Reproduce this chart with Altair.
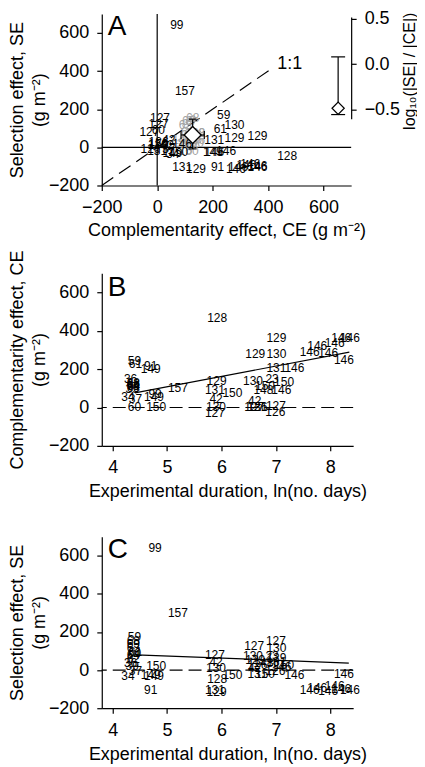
import altair as alt
import pandas as pd

FONT = "Liberation Sans"

# ---- study-level values ----
study_id = ["59", "61", "36", "68", "69", "63", "64", "62", "39", "34", "37", "60",
            "91", "149", "149", "99", "150", "157",
            "128", "129", "131", "42", "130", "127", "150",
            "129", "130", "127", "126", "131", "42", "148", "150", "23",
            "130", "129", "131", "127", "126", "150", "146",
            "146", "146", "146", "146", "146", "146", "146", "146"]
ln_days = [4.40, 4.42, 4.33, 4.38, 4.38, 4.38, 4.38, 4.38, 4.36, 4.28, 4.42, 4.40,
           4.70, 4.70, 4.76, 4.78, 4.80, 5.20,
           5.92, 5.91, 5.88, 5.90, 5.90, 5.88, 6.20,
           6.62, 6.58, 6.60, 6.66, 6.66, 6.61, 6.77, 6.80, 6.93,
           7.01, 7.01, 7.01, 7.00, 6.99, 7.15, 7.10,
           7.34, 7.62, 7.76, 7.96, 8.08, 8.20, 8.36, 8.25]
ce_values = [240, 228, 149, 128, 114, 102, 110, 120, 95, 56, 42, 4,
             218, 201, 55, 71, 4, 100,
             469, 140, 90, 42, 2, -28, 76,
             279, 137, 5, 5, 0, 36, 90, 114, 149,
             279, 362, 206, 10, -24, 133, 90,
             206, 292, 322, 284, 336, 362, 362, 249]
se_values = [171, 95, 36, 153, 136, 115, 80, 59, 20, -33, -7, 92,
             -103, -24, -30, 640, 19, 297,
             -45, -116, -103, 40, 10, 80, -24,
             51, 75, 124, 28, -19, 10, 37, -19, 75,
             115, 61, 40, 155, -7, 25, 16,
             -24, -103, -94, -111, -85, -100, -103, -21]
gray_flag = [0, 0, 1, 1, 1, 1, 1, 1, 1, 0, 0, 0,
             0, 0, 0, 0, 0, 0,
             0, 0, 0, 0, 0, 0, 0,
             0, 1, 0, 0, 0, 0, 1, 1, 1,
             0, 0, 0, 0, 0, 1, 0,
             0, 0, 0, 0, 0, 0, 0, 0]

# summary values
mean_ce = [128]
mean_se = [65]
ce_ci = [86, 170]
se_ci = [-8, 148]
ratio_ce_pos = [653]
ratio_mean = [-0.485]
ratio_ci = [-0.555, 0.08]
one_to_one = [-200, 415]
one_to_one_label = [478, 437]
fit_b_x = [4.41, 8.35]
fit_b_y = [76, 289]
fit_c_x = [4.43, 8.34]
fit_c_y = [80, 37]

ticks_effect = [-200, 0, 200, 400, 600]
ticks_days = [4, 5, 6, 7, 8]
ticks_ratio = [-0.5, 0.0, 0.5]

df = pd.DataFrame({"id": study_id, "lnd": ln_days, "ce": ce_values,
                   "se": se_values, "gray": gray_flag})
df_black = df[df.gray == 0]
df_gray = df[df.gray == 1]

UNIT = "(g m\u207b\u00b2)"
GRAY = "#a3a3a3"


def xa():
    return alt.X("ce:Q", scale=alt.Scale(domain=[-200, 700], nice=False, zero=False),
                 axis=alt.Axis(values=ticks_effect,
                               title="Complementarity effect, CE " + UNIT,
                               titlePadding=5))


def ya():
    return alt.Y("se:Q", scale=alt.Scale(domain=[-200, 700], nice=False, zero=False),
                 axis=alt.Axis(values=ticks_effect,
                               title=["Selection effect, SE", UNIT],
                               titlePadding=0, titleLineHeight=22))


one = pd.DataFrame({"k": [0]})

# ---------------- Panel A ----------------
zero_v = alt.Chart(one).mark_rule(color="black", strokeWidth=1.2).encode(x=alt.datum(0))
zero_h = alt.Chart(one).mark_rule(color="black", strokeWidth=1.2).encode(y=alt.datum(0))
diag = alt.Chart(pd.DataFrame({"ce": [one_to_one[0]], "se": [one_to_one[0]],
                               "ce2": [one_to_one[1]], "se2": [one_to_one[1]]})).mark_rule(
    color="black", strokeWidth=1.2, strokeDash=[14, 7]).encode(
    x=xa(), y=ya(), x2="ce2:Q", y2="se2:Q")
diag_lab = alt.Chart(pd.DataFrame({"ce": [one_to_one_label[0]], "se": [one_to_one_label[1]],
                                   "t": ["1:1"]})).mark_text(
    font=FONT, fontSize=18, color="black").encode(x=xa(), y=ya(), text="t:N")

gray_pts = alt.Chart(df_gray).mark_point(shape="circle", size=28, color=GRAY,
                                         strokeWidth=1, opacity=1).encode(x=xa(), y=ya())
gray_txt = alt.Chart(df_gray).mark_text(font=FONT, fontSize=12, color=GRAY).encode(
    x=xa(), y=ya(), text="id:N")
black_txt = alt.Chart(df_black).mark_text(font=FONT, fontSize=12, color="black").encode(
    x=xa(), y=ya(), text="id:N")

mean_df = pd.DataFrame({"ce": mean_ce, "se": mean_se,
                        "ce_lo": [ce_ci[0]], "ce_hi": [ce_ci[1]],
                        "se_lo": [se_ci[0]], "se_hi": [se_ci[1]]})
bar_v = alt.Chart(mean_df).mark_rule(color="black", strokeWidth=1.2).encode(
    x=xa(), y=alt.Y("se_lo:Q"), y2="se_hi:Q")
bar_h = alt.Chart(mean_df).mark_rule(color="black", strokeWidth=1.2).encode(
    x=alt.X("ce_lo:Q"), x2="ce_hi:Q", y=ya())
cap_df_v = pd.DataFrame({"ce": mean_ce * 2, "se": se_ci})
cap_df_h = pd.DataFrame({"ce": ce_ci, "se": mean_se * 2})
caps_v = alt.Chart(cap_df_v).mark_tick(orient="horizontal", size=8, thickness=1.2,
                                       color="black", opacity=1).encode(x=xa(), y=ya())
caps_h = alt.Chart(cap_df_h).mark_tick(orient="vertical", size=8, thickness=1.2,
                                       color="black", opacity=1).encode(x=xa(), y=ya())
mean_pt = alt.Chart(mean_df).mark_point(shape="diamond", size=290, filled=True,
                                        fill="white", stroke="black", strokeWidth=1.3,
                                        opacity=1).encode(x=xa(), y=ya())

letter_a = alt.Chart(pd.DataFrame({"t": ["A"]})).mark_text(
    font=FONT, fontSize=28, color="black", align="left", baseline="alphabetic").encode(
    x=alt.value(6), y=alt.value(21), text="t:N")

left_layers = alt.layer(zero_v, zero_h, diag, diag_lab, gray_pts, gray_txt, black_txt,
                        bar_v, bar_h, caps_v, caps_h, mean_pt, letter_a)


def yr():
    return alt.Y("ratio:Q",
                 scale=alt.Scale(domain=[-0.6, 0.52], range=[105, 3], nice=False, zero=False),
                 axis=alt.Axis(orient="right", values=ticks_ratio, format=".1f",
                               labelPadding=8,
                               title="log\u2081\u2080(|SE| / |CE|)", titleAngle=270,
                               titleX=58, titleY=57, titleBaseline="middle",
                               titleAlign="center", titleFontSize=16))


ratio_bar = pd.DataFrame({"ce": ratio_ce_pos, "ratio": [ratio_ci[0]], "ratio2": [ratio_ci[1]]})
ratio_caps = pd.DataFrame({"ce": ratio_ce_pos * 2, "ratio": ratio_ci})
ratio_pt = pd.DataFrame({"ce": ratio_ce_pos, "ratio": ratio_mean})
r_bar = alt.Chart(ratio_bar).mark_rule(color="black", strokeWidth=1.2).encode(
    x=xa(), y=yr(), y2="ratio2:Q")
r_caps = alt.Chart(ratio_caps).mark_tick(orient="horizontal", size=14, thickness=1.2,
                                         color="black", opacity=1).encode(x=xa(), y=yr())
r_pt = alt.Chart(ratio_pt).mark_point(shape="diamond", size=150, filled=True, fill="white",
                                      stroke="black", strokeWidth=1.2, opacity=1).encode(
    x=xa(), y=yr())
right_layers = alt.layer(r_bar, r_caps, r_pt)

panel_a = alt.layer(left_layers, right_layers).resolve_scale(y="independent").properties(
    width=250, height=172)


# ---------------- Panels B and C ----------------
def xd():
    return alt.X("lnd:Q", scale=alt.Scale(domain=[3.8, 8.42], nice=False, zero=False),
                 axis=alt.Axis(values=ticks_days, format="d",
                               title="Experimental duration, ln(no. days)", titlePadding=6))


def yd(field, title):
    return alt.Y(field + ":Q", scale=alt.Scale(domain=[-200, 700], nice=False, zero=False),
                 axis=alt.Axis(values=ticks_effect, title=[title, UNIT],
                               titlePadding=0, titleLineHeight=22))


def time_panel(field, title, fit_x, fit_y, letter, letter_y, height):
    dash0 = alt.Chart(one).mark_rule(color="black", strokeWidth=1.2,
                                     strokeDash=[13, 6]).encode(y=alt.datum(0))
    fit = alt.Chart(pd.DataFrame({"lnd": fit_x, field: fit_y})).mark_line(
        color="black", strokeWidth=1.2).encode(x=xd(), y=yd(field, title))
    txt = alt.Chart(df).mark_text(font=FONT, fontSize=12, color="black").encode(
        x=xd(), y=yd(field, title), text="id:N")
    let = alt.Chart(pd.DataFrame({"t": [letter]})).mark_text(
        font=FONT, fontSize=28, color="black", align="left", baseline="alphabetic").encode(
        x=alt.value(6), y=alt.value(letter_y), text="t:N")
    return alt.layer(dash0, txt, fit, let).properties(width=252, height=height)


panel_b = time_panel("ce", "Complementarity effect, CE", fit_b_x, fit_b_y, "B", 23, 173)
panel_c = time_panel("se", "Selection effect, SE", fit_c_x, fit_c_y, "C", 21, 172)

lower = alt.vconcat(panel_b, panel_c, spacing=91, bounds="flush")
chart = alt.vconcat(panel_a, lower, spacing=88, bounds="flush").properties(
    padding={"left": 0, "top": 0, "right": 0, "bottom": 0}
).configure_view(stroke=None).configure_axis(
    domainColor="black", tickColor="black", tickSize=5, domainWidth=1.2, tickWidth=1.2,
    labelFont=FONT, labelFontSize=18, labelColor="black", labelPadding=8,
    labelFlush=False, labelOverlap=False,
    titleFont=FONT, titleFontSize=18, titleColor="black", titleFontWeight="normal",
    grid=False
).configure_text(font=FONT)

chart.save("out.html", embed_options={"renderer": "svg", "actions": False})
